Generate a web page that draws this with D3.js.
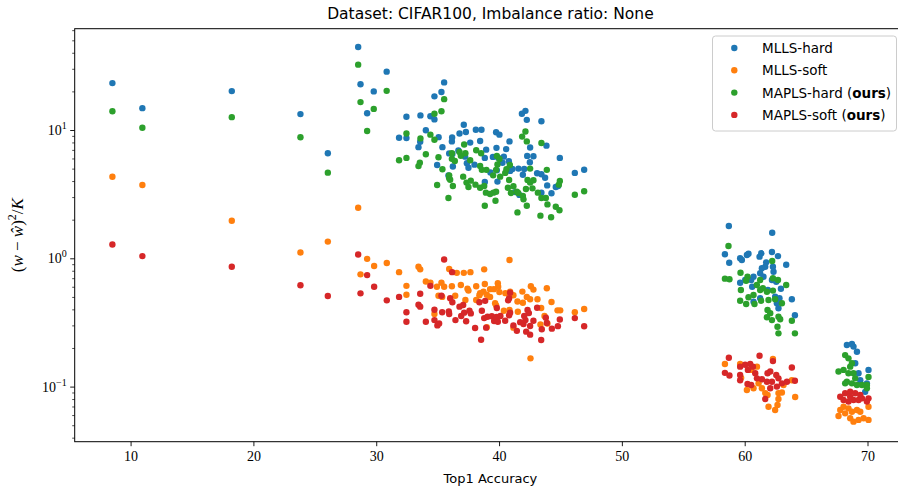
<!DOCTYPE html>
<html><head><meta charset="utf-8">
<script src="https://cdn.jsdelivr.net/npm/d3@7"></script>
<style>body{margin:0;background:#fff}svg{display:block}</style>
</head><body><svg id="c" width="898" height="490"></svg>
<script>
const titleText = "Dataset: CIFAR100, Imbalance ratio: None";
const xLabel = "Top1 Accuracy";
const xTicks = [10, 20, 30, 40, 50, 60, 70];
const yMajorExp = [-1, 0, 1];
const seriesNames = ["MLLS-hard", "MLLS-soft", "MAPLS-hard", "MAPLS-soft"];
const seriesColors = ["#1f77b4", "#ff7f0e", "#2ca02c", "#d62728"];

const mllsHard = [[8.52,23.2],[10.96,14.8],[18.24,20.1],[23.83,13.3],[26.06,6.58],[28.53,44.4],[28.72,22.7],[29.26,13.5],[29.8,20.0],[30.85,28.5],[31.86,8.71],
[32.46,12.7],[33.6,13.0],[34.41,12.8],[34.74,12.1],[34.74,18.3],[35.31,19.8],[35.53,23.5],[34.04,9.95],[35.08,8.8],[32.46,8.65],[33.58,8.1],[33.44,7.35],[35.39,7.35],[35.94,6.57],[34.96,5.34],[35.88,4.42],[36.16,8.15],[36.18,8.75],[36.78,9.4],[37.13,11.0],[37.3,9.65],[38.11,10.05],[38.57,10.05],[37.65,7.98],[38.46,8.2],[39.76,9.6],[40.03,9.2],[40.85,8.15],[41.86,13.4],[42.15,14.1],[42.26,12.0],[43.45,11.7],[42.53,7.3],[43.86,7.55],[44.95,6.06],[46.17,4.63],[46.93,4.9],[38.95,7.03],[39.79,7.26],[36.2,6.5],[36.24,5.19],[37.38,5.5],[37.51,5.08],[38.0,5.37],[38.84,6.06],[39.5,6.17],[39.93,6.08],[40.39,6.2],[40.8,5.7],[41.09,4.97],[41.58,5.0],[42.29,6.28],[42.8,6.24],[42.51,5.6],[42.05,4.97],[43.1,4.6],[43.45,4.52],[43.75,4.25],[41.94,4.48],[43.92,3.7],[44.27,3.21],[44.62,3.6],[44.81,3.66],[43.45,3.25],[38.84,3.94],[39.3,4.66],[39.82,4.86],[41.31,3.28],[41.66,3.12],[39.87,3.96],[36.69,6.93],[37.24,6.2],[40.58,7.1],[40.28,5.56],[40.9,4.8],
[58.71,1.785],[62.24,1.583],[58.39,1.075],[58.74,0.924],[59.63,1.0],[59.77,0.97],[60.18,1.06],[60.31,1.086],[61.21,1.03],[61.35,1.094],[62.22,1.12],[62.71,1.04],[63.38,0.89],[61.75,0.93],[61.67,0.86],[61.4,0.836],[62.3,0.86],[62.35,0.786],[61.26,0.764],[60.72,0.719],[60.53,0.677],[60.04,0.677],[59.63,0.645],[60.61,0.6],[61.53,0.719],[62.22,0.677],[62.57,0.657],[62.95,0.579],[61.89,0.566],[62.48,0.502],[62.83,0.488],[62.62,0.446],[62.75,0.408],[63.84,0.479],[64.09,0.36],[61.26,0.488],[60.72,0.459],
[68.32,0.211],[68.73,0.215],[68.86,0.205],[69.14,0.187],[69.0,0.152],[69.27,0.127],[70.08,0.135],[69.95,0.106],[69.81,0.091],[69.41,0.112]];

const mllsSoft = [[8.52,4.32],[10.96,3.73],[18.24,1.96],[23.83,1.11],[26.06,1.35],[28.53,2.48],[28.72,0.75],[29.26,0.99],[29.83,0.87],[30.86,0.92],[31.86,0.78],
[33.44,0.86],[33.58,0.82],[34.04,0.66],[34.41,0.645],[34.94,0.6],[35.31,0.645],[35.53,0.6],[35.94,0.825],[32.46,0.61],[32.46,0.52],[35.07,0.51],[35.37,0.5],[34.74,0.368],[36.56,0.77],[37.13,0.77],[37.67,0.78],[38.79,0.82],[40.85,0.97],[36.89,0.62],[37.43,0.58],[37.51,0.56],[38.14,0.605],[38.73,0.55],[38.84,0.63],[39.27,0.575],[39.58,0.575],[39.9,0.64],[39.93,0.6],[40.03,0.545],[38.4,0.515],[39.0,0.52],[40.52,0.535],[41.17,0.515],[41.9,0.55],[42.59,0.605],[42.8,0.57],[43.89,0.585],[42.26,0.5],[42.53,0.48],[41.94,0.45],[41.5,0.46],[43.13,0.48],[44.27,0.456],[37.26,0.473],[39.76,0.43],[40.39,0.39],[40.85,0.395],[41.53,0.383],[43.43,0.41],[43.7,0.355],[44.76,0.393],[44.98,0.393],[46.17,0.38],[46.93,0.403],[43.37,0.305],[43.94,0.31],[41.17,0.288],[39.0,0.29],[42.56,0.166],[36.16,0.605],[38.46,0.535],[39.27,0.5],[39.68,0.447],[40.9,0.55],[38.14,0.473],[36.43,0.51],
[58.39,0.15],[59.63,0.15],[59.71,0.117],[60.18,0.094],[60.72,0.097],[61.13,0.106],[61.4,0.097],[62.3,0.164],[61.67,0.089],[61.86,0.086],[62.75,0.089],[63.03,0.09],[62.75,0.08],[64.11,0.083],[61.94,0.0697],[62.48,0.0657],[62.67,0.072],[63.84,0.112],[63.16,0.103],[61.0,0.143],[60.53,0.135],
[68.05,0.0697],[68.45,0.0677],[67.64,0.059],[68.18,0.0619],[68.73,0.0637],[69.14,0.0657],[69.41,0.0637],[68.59,0.0566],[68.86,0.0533],[69.27,0.055],[69.68,0.0566],[70.08,0.055],[70.08,0.0697],[67.78,0.0657]];

const maplsHard = [[8.52,14.0],[10.96,10.4],[18.24,12.6],[23.83,8.77],[26.06,4.65],[28.53,32.3],[28.72,16.5],[29.26,9.83],[29.8,14.6],[30.85,20.2],[31.86,5.81],
[34.74,13.4],[35.31,14.0],[35.53,17.4],[32.46,9.4],[33.6,8.6],[34.41,9.2],[34.74,8.4],[32.46,6.06],[33.55,5.56],[33.44,5.23],[34.04,6.48],[35.07,6.14],[35.39,4.95],[35.94,4.2],[34.96,3.73],[35.88,2.95],[35.94,4.43],[36.02,4.1],[36.24,3.66],[36.16,5.96],[36.16,6.58],[36.4,5.73],[36.78,6.75],[36.89,6.3],[37.26,6.58],[37.16,7.7],[37.65,5.81],[38.14,6.95],[38.54,6.58],[38.46,5.25],[38.97,4.89],[37.08,4.33],[37.35,3.89],[37.51,3.6],[37.7,4.03],[38.08,3.75],[38.46,3.55],[38.79,3.66],[38.93,3.25],[39.27,3.17],[39.54,3.25],[39.76,3.3],[39.71,2.81],[38.84,2.57],[39.52,4.43],[39.76,4.89],[39.87,5.38],[39.82,6.28],[40.03,5.94],[40.09,4.33],[40.5,4.63],[40.6,4.94],[40.88,5.34],[40.72,3.55],[40.96,3.23],[41.17,3.64],[41.45,3.3],[41.56,3.23],[41.94,3.06],[41.99,2.88],[42.26,2.57],[41.5,2.28],[42.19,3.47],[42.32,4.08],[42.53,3.89],[42.72,3.51],[42.8,4.06],[42.53,5.0],[41.88,8.88],[42.15,9.74],[42.26,8.15],[43.45,7.92],[43.89,4.89],[43.16,3.25],[43.45,2.95],[43.81,2.95],[43.94,2.63],[43.37,2.15],[44.24,2.09],[44.62,2.52],[44.92,2.37],[44.95,4.0],[44.87,3.75],[46.17,3.13],[46.93,3.33],[38.6,4.89],[40.82,4.08],
[58.68,1.247],[62.24,0.953],[59.66,0.772],[58.39,0.694],[58.76,0.686],[60.23,0.719],[60.12,0.669],[59.69,0.566],[59.63,0.467],[60.31,0.497],[60.72,0.518],[61.26,0.566],[61.48,0.584],[61.81,0.549],[60.8,0.44],[60.12,0.44],[61.34,0.467],[61.94,0.473],[62.48,0.479],[62.71,0.677],[63.38,0.619],[62.3,0.56],[63.03,0.446],[61.86,0.395],[62.08,0.373],[61.81,0.347],[62.22,0.33],[62.75,0.35],[62.89,0.335],[63.84,0.326],[62.67,0.293],[62.75,0.26],[64.09,0.26],[61.26,0.677],[60.99,0.619],[62.3,0.699],
[68.18,0.176],[68.45,0.166],[68.73,0.152],[68.59,0.143],[67.64,0.131],[68.05,0.135],[68.45,0.127],[68.86,0.127],[69.0,0.116],[68.32,0.109],[68.18,0.106],[68.73,0.106],[69.14,0.103],[69.55,0.103],[70.08,0.119],[69.95,0.103],[69.95,0.097]];

const maplsSoft = [[8.52,1.28],[10.96,1.04],[18.24,0.86],[23.83,0.616],[26.06,0.508],[28.53,1.07],[28.72,0.533],[29.26,0.74],[29.83,0.60],[30.86,0.47],[31.86,0.50],
[35.53,0.98],[34.41,0.61],[36.18,0.78],[32.46,0.38],[32.46,0.32],[33.58,0.53],[33.44,0.434],[33.58,0.42],[34.04,0.32],[34.74,0.397],[34.74,0.33],[34.98,0.3],[35.12,0.31],[35.37,0.38],[35.31,0.51],[35.91,0.386],[36.02,0.488],[36.2,0.454],[36.45,0.33],[36.78,0.42],[36.92,0.355],[37.08,0.432],[37.16,0.377],[37.32,0.323],[37.59,0.39],[37.7,0.372],[38.05,0.286],[38.4,0.454],[38.6,0.39],[38.79,0.342],[38.95,0.288],[38.87,0.466],[39.06,0.35],[39.41,0.353],[39.6,0.325],[39.79,0.349],[39.82,0.41],[39.9,0.32],[40.11,0.355],[40.5,0.326],[40.82,0.36],[40.9,0.54],[40.82,0.488],[40.74,0.47],[38.54,0.232],[41.17,0.3],[41.45,0.272],[41.72,0.318],[41.99,0.307],[42.15,0.33],[42.32,0.395],[42.43,0.374],[42.21,0.268],[42.53,0.254],[42.53,0.297],[42.8,0.326],[43.1,0.412],[43.48,0.28],[43.43,0.231],[43.81,0.344],[43.89,0.313],[44.3,0.283],[44.95,0.333],[44.79,0.296],[46.17,0.342],[46.93,0.295],[35.94,0.368],[40.9,0.376],[42.05,0.355],
[58.71,0.168],[61.21,0.174],[58.39,0.128],[58.76,0.122],[59.63,0.143],[59.63,0.123],[59.63,0.112],[60.04,0.148],[60.45,0.15],[60.67,0.143],[60.26,0.135],[60.86,0.127],[61.0,0.116],[60.23,0.105],[60.53,0.103],[61.4,0.114],[61.86,0.127],[62.08,0.131],[62.3,0.158],[62.22,0.109],[62.57,0.123],[62.75,0.116],[63.03,0.106],[63.44,0.109],[63.84,0.141],[64.09,0.111],[62.62,0.1],[61.81,0.109],[62.08,0.097],[61.67,0.08],
[67.78,0.0833],[68.18,0.0887],[68.59,0.0913],[69.0,0.0887],[69.41,0.0862],[68.05,0.0787],[68.45,0.0764],[68.86,0.0787],[69.27,0.0787],[69.55,0.081],[68.59,0.0833],[70.08,0.081],[69.95,0.0764]];

const allSeries = [mllsHard, mllsSoft, maplsHard, maplsSoft];

const svg = d3.select("#c");
const L = 74.7, R = 906.2, T = 28.7, B = 441.7;
const x = d3.scaleLinear().domain([5.45, 73.15]).range([L, R]);
const y = d3.scaleLog().domain([0.0372, 61.6]).range([B, T]);
const serif = "'Liberation Serif', 'DejaVu Serif', serif";
const sans = "'DejaVu Sans', sans-serif";

// points
allSeries.forEach((s, i) => {
  svg.append("g").selectAll("circle").data(s).join("circle")
    .attr("cx", d => x(d[0])).attr("cy", d => y(d[1])).attr("r", 3.2)
    .attr("fill", seriesColors[i]);
});

// x axis
const xAxis = d3.axisBottom(x).tickValues(xTicks).tickSize(4.5).tickPadding(5).tickFormat(d3.format("d"));
const gx = svg.append("g").attr("transform", `translate(0,${B})`).call(xAxis);
gx.select(".domain").remove();
gx.selectAll("text").attr("font-family", serif).attr("font-size", 14).attr("fill", "#000");
gx.selectAll("line").attr("stroke", "#000").attr("stroke-width", 0.9);

// y axis major & minor
const minorVals = [];
for (let e = -2; e <= 1; e++) for (let k = 2; k <= 9; k++) {
  const v = k * Math.pow(10, e);
  if (v > y.domain()[0] && v < y.domain()[1]) minorVals.push(v);
}
const gyMinor = svg.append("g").attr("transform", `translate(${L},0)`)
  .call(d3.axisLeft(y).tickValues(minorVals).tickSize(2.5).tickFormat(""));
gyMinor.select(".domain").remove();
gyMinor.selectAll("line").attr("stroke", "#000").attr("stroke-width", 0.7);
const majorVals = yMajorExp.map(e => Math.pow(10, e));
const gy = svg.append("g").attr("transform", `translate(${L},0)`)
  .call(d3.axisLeft(y).tickValues(majorVals).tickSize(4.5).tickFormat(""));
gy.select(".domain").remove();
gy.selectAll("line").attr("stroke", "#000").attr("stroke-width", 0.9);
yMajorExp.forEach(e => {
  const t = svg.append("text").attr("x", L - 8).attr("y", y(Math.pow(10, e)) + 5)
    .attr("text-anchor", "end").attr("font-family", serif).attr("font-size", 14).attr("fill", "#000");
  t.append("tspan").text("10");
  t.append("tspan").attr("dy", -6).attr("font-size", 10).text(e < 0 ? "\u2212" + (-e) : String(e));
});

// spines
svg.append("rect").attr("x", L).attr("y", T).attr("width", R - L).attr("height", B - T)
  .attr("fill", "none").attr("stroke", "#000").attr("stroke-width", 1);

// title
svg.append("text").attr("x", (L + R) / 2).attr("y", 19).attr("text-anchor", "middle")
  .attr("font-family", sans).attr("font-size", 15.5).attr("fill", "#000").text(titleText);
// x label
svg.append("text").attr("x", (L + R) / 2).attr("y", 483).attr("text-anchor", "middle")
  .attr("font-family", sans).attr("font-size", 13).attr("fill", "#000").text(xLabel);
// y label
const yl = svg.append("text").attr("transform", `translate(23,${(T + B) / 2}) rotate(-90)`)
  .attr("text-anchor", "middle").attr("font-family", serif).attr("font-size", 17).attr("fill", "#000");
yl.append("tspan").text("(");
yl.append("tspan").attr("font-style", "italic").text("w");
yl.append("tspan").text(" \u2212 ");
yl.append("tspan").attr("font-style", "italic").text("\u0175");
yl.append("tspan").text(")");
yl.append("tspan").attr("dy", -7).attr("font-size", 12).text("2");
yl.append("tspan").attr("dy", 7).text("/");
yl.append("tspan").attr("font-style", "italic").text("K");

// legend
const lg = svg.append("g");
lg.append("rect").attr("x", 712.5).attr("y", 36).attr("width", 184).attr("height", 95).attr("rx", 3)
  .attr("fill", "#fff").attr("fill-opacity", 0.8).attr("stroke", "#ccc").attr("stroke-width", 1);
seriesNames.forEach((n, i) => {
  const yy = 48 + i * 22.3;
  lg.append("circle").attr("cx", 734.3).attr("cy", yy).attr("r", 3.2).attr("fill", seriesColors[i]);
  const t = lg.append("text").attr("x", 762).attr("y", yy + 5).attr("font-family", sans)
    .attr("font-size", 13.5).attr("fill", "#000");
  t.append("tspan").text(n);
  if (i >= 2) {
    t.append("tspan").text(" (");
    t.append("tspan").attr("font-weight", "bold").text("ours");
    t.append("tspan").text(")");
  }
});
</script></body></html>
